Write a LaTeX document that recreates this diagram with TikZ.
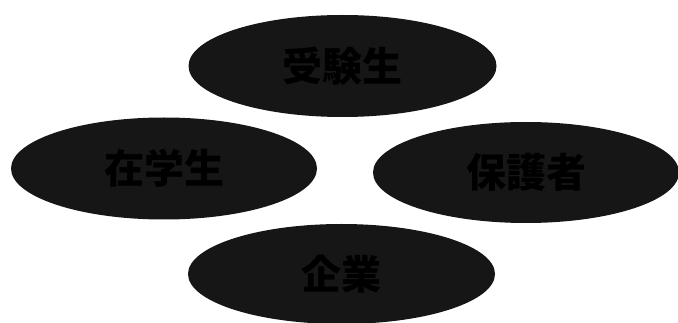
\documentclass[tikz,border=0pt]{standalone}
\usepackage{fontspec}
\newfontfamily\cjk{Noto Sans CJK JP}
\usetikzlibrary{shapes.geometric}
\definecolor{roleFill}{HTML}{161616}
\definecolor{roleInk}{HTML}{000000}

\begin{document}
\begin{tikzpicture}[
    x=1pt, y=-1pt,
    role oval/.style={ellipse, fill=roleFill, draw=none, inner sep=0pt,
      minimum width=308pt, minimum height=102pt},
    role name/.style={text=roleInk, font=\cjk\bfseries\fontsize{40}{40}\selectfont},
]
  \useasboundingbox (0,0) rectangle (678,323);

  % Posições dos grupos.
  \coordinate (g-top) at (342.5,66);
  \coordinate (g-left) at (164,168.5);
  \coordinate (g-right) at (526,172.5);
  \coordinate (g-bottom) at (341.5,274);

  % Elipses.
  \node[role oval] (o-top) at (g-top) {};
  \node[role oval, minimum width=306pt] (o-left) at (g-left) {};
  \node[role oval, minimum width=306pt, minimum height=101pt] (o-right) at (g-right) {};
  \node[role oval, minimum width=307pt, minimum height=100pt] (o-bottom) at (g-bottom) {};

  % Rótulos.
  \node[role name] (n-top) at (o-top.center) {受験生};
  \node[role name] (n-left) at (o-left.center) {在学生};
  \node[role name] (n-right) at (o-right.center) {保護者};
  \node[role name] (n-bottom) at (o-bottom.center) {企業};
\end{tikzpicture}
\end{document}
